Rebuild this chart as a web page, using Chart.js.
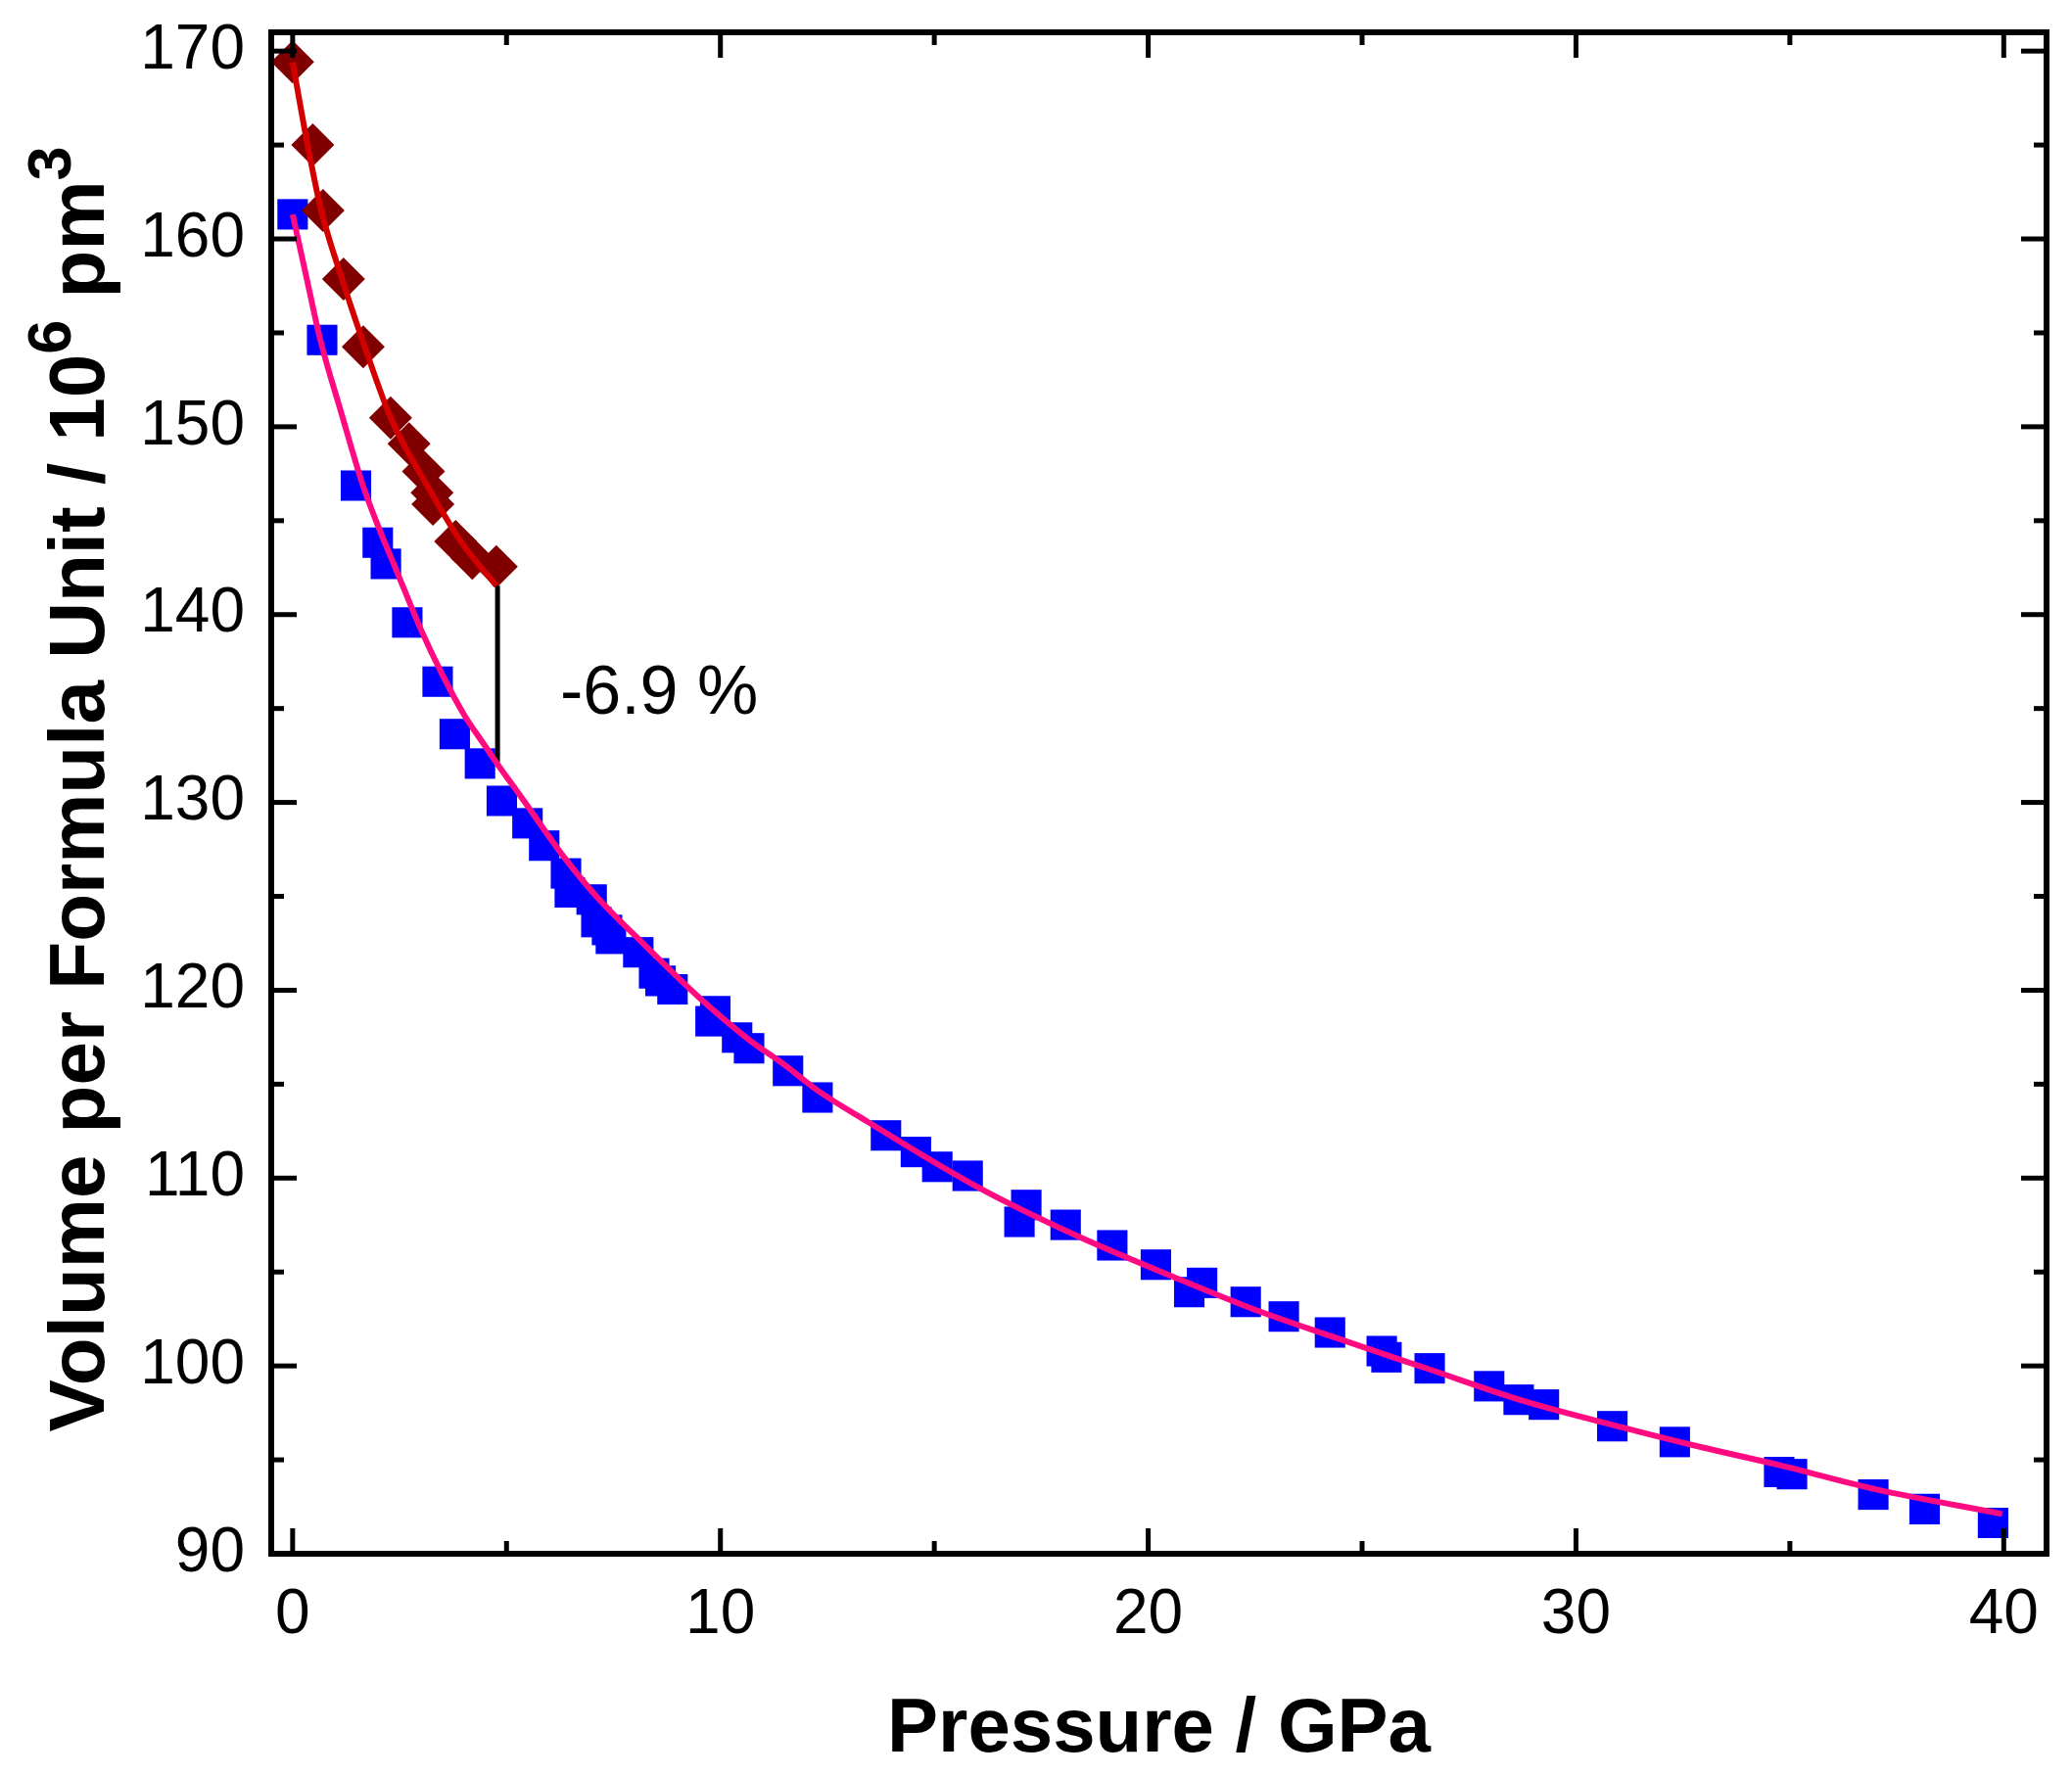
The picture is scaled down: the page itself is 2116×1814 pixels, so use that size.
<!DOCTYPE html>
<html lang="en">
<head>
<meta charset="utf-8">
<title>Volume per formula unit vs pressure</title>
<script src="https://cdn.jsdelivr.net/npm/chart.js@4.4.1/dist/chart.umd.min.js"></script>
<style>
  html, body { margin: 0; padding: 0; background: #fff; }
  canvas { display: block; }
</style>
</head>
<body>
<canvas id="eos" width="2116" height="1814"></canvas>
<script>
// low pressure phase (diamonds) and its fit curve
const phase1P = [0.00, 0.47, 0.71, 1.19, 1.65, 2.29, 2.72, 3.06, 3.26, 3.28, 3.81, 4.20, 4.76];
const phase1V = [169.42, 165.00, 161.52, 157.87, 154.26, 150.48, 149.10, 147.62, 146.49, 145.88, 143.89, 143.00, 142.55];
const fit1P = [0.00, 0.35, 0.67, 1.15, 1.68, 2.29, 3.24, 3.93, 4.76];
const fit1V = [169.4, 165.0, 161.5, 157.9, 154.3, 150.5, 146.5, 143.9, 141.54];

// high pressure phase (squares) and its fit curve
const phase2P = [0.00, 0.69, 1.48, 1.99, 2.18, 2.68, 3.39, 3.79, 4.38, 4.89, 5.49, 5.88, 6.39, 6.48, 6.99,
  7.10, 7.35, 7.44, 8.08, 8.45, 8.60, 8.88, 9.77, 9.88, 10.39, 10.67, 11.58, 12.27, 13.87, 14.57, 15.07,
  15.78, 16.99, 17.15, 18.07, 19.16, 20.18, 20.96, 21.26, 22.28, 23.17, 24.25, 25.46, 25.57, 26.58, 27.97,
  28.66, 29.25, 30.85, 32.31, 34.75, 35.05, 36.95, 38.15, 39.75];
const phase2V = [161.31, 154.62, 146.87, 143.83, 142.70, 139.58, 136.43, 133.64, 132.07, 130.08, 128.89, 127.70, 126.22, 125.21, 124.83,
  123.63, 123.21, 122.74, 122.02, 120.90, 120.50, 120.05, 118.35, 118.89, 117.48, 116.91, 115.71, 114.29, 112.27, 111.39, 110.60,
  110.12, 107.67, 108.57, 107.51, 106.42, 105.39, 103.93, 104.42, 103.41, 102.63, 101.78, 100.79, 100.46, 99.87, 98.92,
  98.20, 97.94, 96.79, 95.95, 94.35, 94.24, 93.15, 92.38, 91.64];
const fit2P = [0, 0.3, 0.65, 1.13, 1.64, 2.0, 2.4, 3.0, 3.5, 4.0, 4.5, 4.76, 5.37, 6.36, 7.12, 8.26, 9.48,
  10.70, 11.46, 12.30, 13.44, 16.03, 18.31, 20.59, 22.42, 24.25, 26.53, 28.81, 31.1, 32.92, 34.75, 37.03, 39.96];
const fit2V = [161.3, 158.2, 154.6, 150.8, 146.9, 144.7, 142.5, 139.2, 136.8, 134.7, 133.0, 132.13, 130.2, 127.04, 124.95, 122.34, 119.66,
  117.31, 116.09, 114.62, 113.0, 109.5, 106.95, 104.74, 103.06, 101.6, 99.85, 98.11, 96.72, 95.68, 94.72, 93.42, 92.12];

// volume jump at the transition
const jumpP = [4.79, 4.79];
const jumpV = [141.54, 132.16];
const jumpLabel = "-6.9 %";

const xTicks = [0, 10, 20, 30, 40];
const xMinorTicks = [5, 15, 25, 35];
const yTicks = [90, 100, 110, 120, 130, 140, 150, 160, 170];
const yMinorTicks = [95, 105, 115, 125, 135, 145, 155, 165];

const yTitleParts = [
  { text: "Volume per Formula Unit / 10", sup: false },
  { text: "6", sup: true },
  { text: " pm", sup: false },
  { text: "3", sup: true }
];

const family = '"Liberation Sans", Arial, sans-serif';

function pairs(xs, ys) {
  return xs.map((x, i) => ({ x: x, y: ys[i] }));
}

// frame with inward ticks on all four sides, the jump label and the y title
const framePlugin = {
  id: "frame",
  afterDatasetsDraw(chart) {
    const { ctx, chartArea: a } = chart;
    const x = chart.scales.x, y = chart.scales.y;
    const major = 26, minor = 13;
    ctx.save();
    ctx.strokeStyle = "#000";
    ctx.lineWidth = 5;
    const seg = (x1, y1, x2, y2) => {
      ctx.beginPath();
      ctx.moveTo(x1, y1);
      ctx.lineTo(x2, y2);
      ctx.stroke();
    };
    xTicks.concat(xMinorTicks).forEach(v => {
      const len = xTicks.includes(v) ? major : minor;
      const px = x.getPixelForValue(v);
      seg(px, a.bottom, px, a.bottom - len);
      seg(px, a.top, px, a.top + len);
    });
    yTicks.concat(yMinorTicks).forEach(v => {
      const len = yTicks.includes(v) ? major : minor;
      const py = y.getPixelForValue(v);
      seg(a.left, py, a.left + len, py);
      seg(a.right, py, a.right - len, py);
    });
    ctx.lineWidth = 6;
    ctx.strokeRect(a.left, a.top, a.right - a.left, a.bottom - a.top);

    ctx.fillStyle = "#000";
    ctx.font = "70px " + family;
    ctx.textAlign = "left";
    ctx.textBaseline = "alphabetic";
    ctx.fillText(jumpLabel, x.getPixelForValue(6.25), y.getPixelForValue(134.7));
    ctx.restore();
  },
  afterDraw(chart) {
    const { ctx, chartArea: a } = chart;
    const mainFont = "bold 80px " + family;
    const supFont = "bold 63px " + family;
    ctx.save();
    ctx.translate(a.left - 171, (a.top + a.bottom) / 2 - 4);
    ctx.rotate(-Math.PI / 2);
    ctx.fillStyle = "#000";
    ctx.textBaseline = "alphabetic";
    ctx.textAlign = "left";
    let total = 0;
    yTitleParts.forEach(p => {
      ctx.font = p.sup ? supFont : mainFont;
      total += ctx.measureText(p.text).width;
    });
    let cx = -total / 2;
    yTitleParts.forEach(p => {
      ctx.font = p.sup ? supFont : mainFont;
      ctx.fillText(p.text, cx, p.sup ? -34 : 0);
      cx += ctx.measureText(p.text).width;
    });
    ctx.restore();
  }
};

new Chart(document.getElementById("eos"), {
  type: "scatter",
  data: {
    datasets: [
      {
        label: "fit low pressure",
        data: pairs(fit1P, fit1V),
        showLine: true,
        borderColor: "#d40000",
        borderWidth: 6,
        pointRadius: 0,
        cubicInterpolationMode: "monotone"
      },
      {
        label: "fit high pressure",
        data: pairs(fit2P, fit2V),
        showLine: true,
        borderColor: "#ff0a80",
        borderWidth: 6,
        pointRadius: 0,
        cubicInterpolationMode: "monotone"
      },
      {
        label: "jump",
        data: pairs(jumpP, jumpV),
        showLine: true,
        borderColor: "#000",
        borderWidth: 5,
        pointRadius: 0
      },
      {
        label: "low pressure phase",
        data: pairs(phase1P, phase1V),
        pointStyle: "rectRot",
        pointRadius: 22,
        backgroundColor: "#800000",
        borderWidth: 0
      },
      {
        label: "high pressure phase",
        data: pairs(phase2P, phase2V),
        pointStyle: "rect",
        pointRadius: 22,
        backgroundColor: "#0000ff",
        borderWidth: 0
      }
    ]
  },
  options: {
    responsive: false,
    devicePixelRatio: 1,
    animation: false,
    events: [],
    clip: false,
    layout: { padding: { top: 33, right: 26, left: 0, bottom: 0 } },
    plugins: {
      legend: { display: false },
      tooltip: { enabled: false }
    },
    scales: {
      x: {
        type: "linear",
        min: -0.5,
        max: 41,
        grid: { display: false, drawTicks: true, tickLength: 30 },
        border: { display: false },
        afterBuildTicks: s => { s.ticks = xTicks.map(v => ({ value: v })); },
        afterFit: s => { s.height = 227; },
        ticks: { padding: 1, color: "#000", font: { family: family, size: 64, lineHeight: 1 } },
        title: {
          display: true,
          text: "Pressure / GPa",
          color: "#000",
          font: { family: family, size: 78, weight: "bold", lineHeight: 1 },
          padding: { top: 0, bottom: 8 }
        }
      },
      y: {
        type: "linear",
        min: 90,
        max: 171,
        grid: { display: false, drawTicks: true, tickLength: 26 },
        border: { display: false },
        afterBuildTicks: s => { s.ticks = yTicks.map(v => ({ value: v })); },
        afterFit: s => { s.width = 277; },
        ticks: { padding: 1, color: "#000", font: { family: family, size: 64, lineHeight: 1 } }
      }
    }
  },
  plugins: [framePlugin]
});
</script>
</body>
</html>
